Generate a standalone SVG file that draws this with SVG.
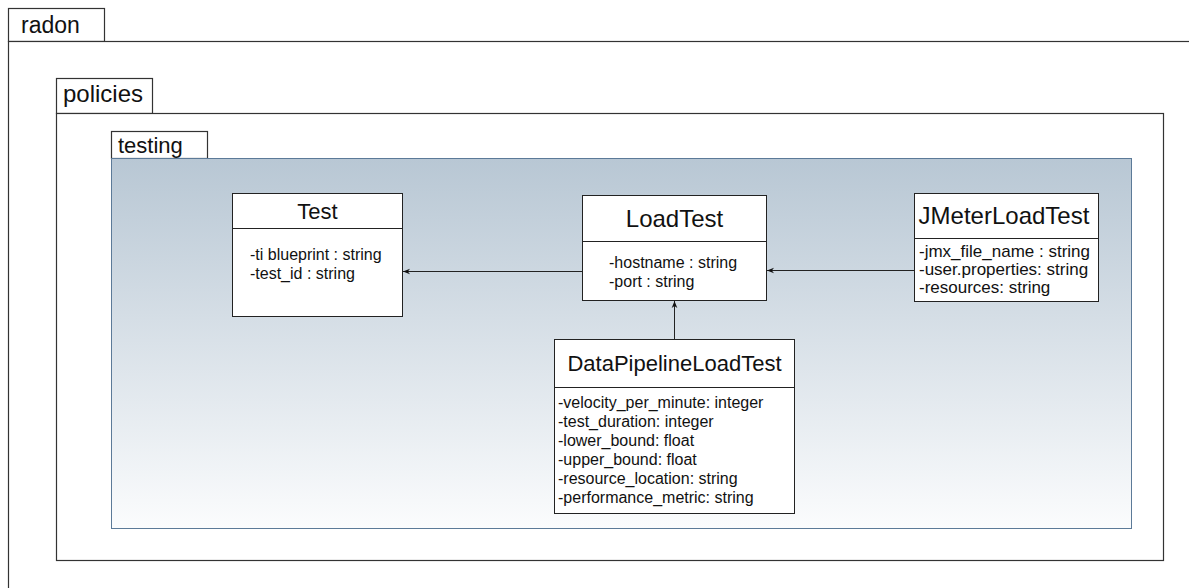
<svg xmlns="http://www.w3.org/2000/svg" width="1189" height="588" viewBox="0 0 1189 588">
<style>
.pkg{fill:#fff;stroke:#333;stroke-width:1.2}
.t{font-family:"Liberation Sans",Arial,sans-serif;fill:#111}
.cls{fill:#fff;stroke:#222;stroke-width:1}
.ttl{font-size:22px;text-anchor:middle}
.ttl24{font-size:24px;text-anchor:middle}
.at{font-size:16px}
.at17{font-size:17px}
.con{stroke:#222;stroke-width:1;fill:none;marker-end:url(#ah)}
</style>
<defs>
<linearGradient id="g" x1="0" y1="0" x2="0" y2="1">
<stop offset="0" stop-color="#b8c7d4"/>
<stop offset="1" stop-color="#fbfcfd"/>
</linearGradient>
<marker id="ah" viewBox="0 0 10 10" refX="10" refY="5" markerWidth="7" markerHeight="7" orient="auto" markerUnits="userSpaceOnUse">
<path d="M0,1 L10,5 L0,9 L3,5 Z" fill="#111"/>
</marker>
</defs>
<g id="radon">
<rect class="pkg" x="8.5" y="8.5" width="96" height="33"/>
<rect class="pkg" x="8.5" y="41.5" width="1200" height="560"/>
<text class="t" font-size="23" x="21" y="33">radon</text>
</g>
<g id="policies">
<rect class="pkg" x="56.5" y="78.5" width="96" height="35"/>
<rect class="pkg" x="56.5" y="113.5" width="1107" height="447"/>
<text class="t" font-size="24" x="63" y="102">policies</text>
</g>
<g id="testing">
<rect class="pkg" x="111.5" y="131.5" width="96" height="27"/>
<rect x="111.5" y="158.5" width="1020" height="370" fill="url(#g)" stroke="#5c7a98" stroke-width="1"/>
<text class="t" font-size="22" x="118" y="153">testing</text>
</g>
<g id="Test">
<rect class="cls" x="232.5" y="193.5" width="170" height="123"/>
<line x1="232.5" y1="228.5" x2="402.5" y2="228.5" stroke="#222"/>
<text class="t ttl" x="317.5" y="219">Test</text>
<text class="t at" x="250" y="260">-ti blueprint : string</text>
<text class="t at" x="250" y="279">-test_id : string</text>
</g>
<g id="LoadTest">
<rect class="cls" x="582.5" y="195.5" width="184" height="105"/>
<line x1="582.5" y1="241.5" x2="766.5" y2="241.5" stroke="#222"/>
<text class="t ttl24" x="674.5" y="227">LoadTest</text>
<text class="t at" x="609" y="268">-hostname : string</text>
<text class="t at" x="609" y="287">-port : string</text>
</g>
<g id="JMeterLoadTest">
<rect class="cls" x="914.5" y="193.5" width="184" height="108"/>
<line x1="914.5" y1="238.5" x2="1098.5" y2="238.5" stroke="#222"/>
<text class="t ttl24" x="1004" y="224">JMeterLoadTest</text>
<text class="t at17" x="919" y="257">-jmx_file_name : string</text>
<text class="t at17" x="919" y="275">-user.properties: string</text>
<text class="t at17" x="919" y="293">-resources: string</text>
</g>
<g id="DataPipelineLoadTest">
<rect class="cls" x="554.5" y="339.5" width="240" height="174"/>
<line x1="554.5" y1="387.5" x2="794.5" y2="387.5" stroke="#222"/>
<text class="t ttl" x="674.5" y="371">DataPipelineLoadTest</text>
<text class="t at" x="558" y="408">-velocity_per_minute: integer</text>
<text class="t at" x="558" y="427">-test_duration: integer</text>
<text class="t at" x="558" y="446">-lower_bound: float</text>
<text class="t at" x="558" y="465">-upper_bound: float</text>
<text class="t at" x="558" y="484">-resource_location: string</text>
<text class="t at" x="558" y="503">-performance_metric: string</text>
</g>
<g id="connectors">
<line class="con" x1="582" y1="271.5" x2="403" y2="271.5"/>
<line class="con" x1="914" y1="270.5" x2="767" y2="270.5"/>
<line class="con" x1="674.5" y1="339" x2="674.5" y2="301"/>
</g>
</svg>
